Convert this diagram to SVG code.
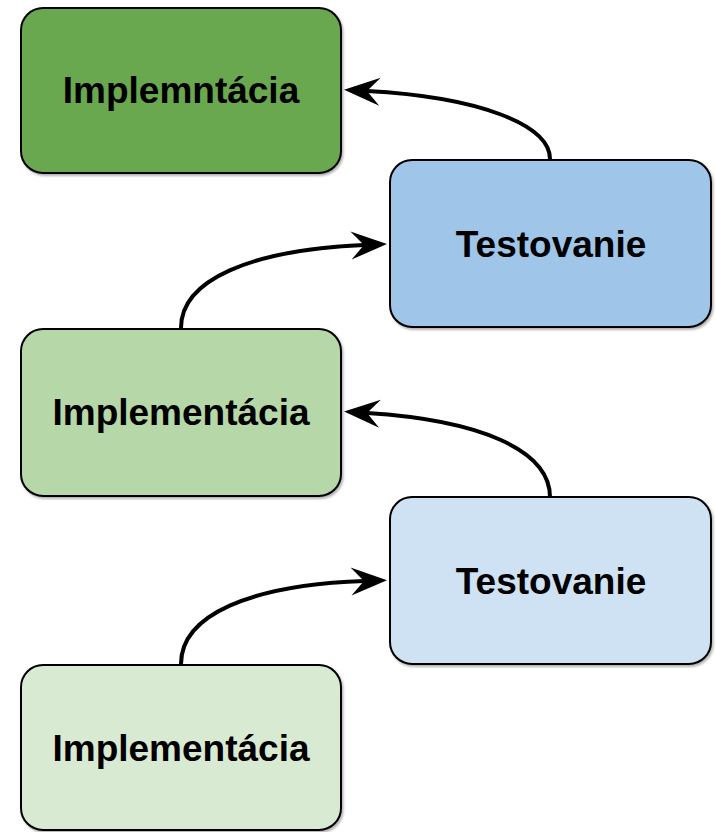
<svg xmlns="http://www.w3.org/2000/svg" width="716" height="832" viewBox="0 0 716 832">
  <style>
    .box { stroke: #000000; stroke-width: 2; filter: url(#shadow); }
    .label { font-family: "Liberation Sans", Arial, sans-serif; font-weight: bold; font-size: 37px; fill: #000000; text-anchor: middle; }
    .edge { fill: none; stroke: #000000; stroke-width: 4; marker-end: url(#arrow); }
  </style>
  <defs>
    <filter id="shadow" x="-5%" y="-5%" width="110%" height="115%">
      <feDropShadow dx="1.5" dy="2" stdDeviation="1" flood-color="#000000" flood-opacity="0.3"/>
    </filter>
    <marker id="arrow" markerUnits="userSpaceOnUse" markerWidth="40" markerHeight="32" viewBox="0 0 40 32" refX="13" refY="16" orient="auto">
      <path d="M0,2 L36,16 L0,30 L13,16 Z" fill="#000000"/>
    </marker>
  </defs>
  <rect width="716" height="832" fill="#ffffff"/>

  <g id="node-impl-1">
    <rect class="box" x="21" y="8" width="320" height="165" rx="22" fill="#6aa84f"/>
    <text class="label" x="181" y="103">Implemntácia</text>
  </g>
  <g id="node-test-1">
    <rect class="box" x="390" y="160" width="321" height="167" rx="22" fill="#9fc5e8"/>
    <text class="label" x="551" y="257">Testovanie</text>
  </g>
  <g id="node-impl-2">
    <rect class="box" x="21" y="329" width="320" height="167" rx="22" fill="#b6d7a8"/>
    <text class="label" x="181" y="425">Implementácia</text>
  </g>
  <g id="node-test-2">
    <rect class="box" x="390" y="497" width="321" height="167" rx="22" fill="#cfe2f3"/>
    <text class="label" x="551" y="594">Testovanie</text>
  </g>
  <g id="node-impl-3">
    <rect class="box" x="21" y="665" width="320" height="165" rx="22" fill="#d9ead3"/>
    <text class="label" x="181" y="761">Implementácia</text>
  </g>

  <g id="connectors">
    <path class="edge" d="M550,159 C550,125 480,97 367,91"/>
    <path class="edge" d="M181,328 C181,280 250,250 364,245"/>
    <path class="edge" d="M550,497 C550,450 480,420 367,413"/>
    <path class="edge" d="M181,664 C181,615 250,585 364,581"/>
  </g>
</svg>
